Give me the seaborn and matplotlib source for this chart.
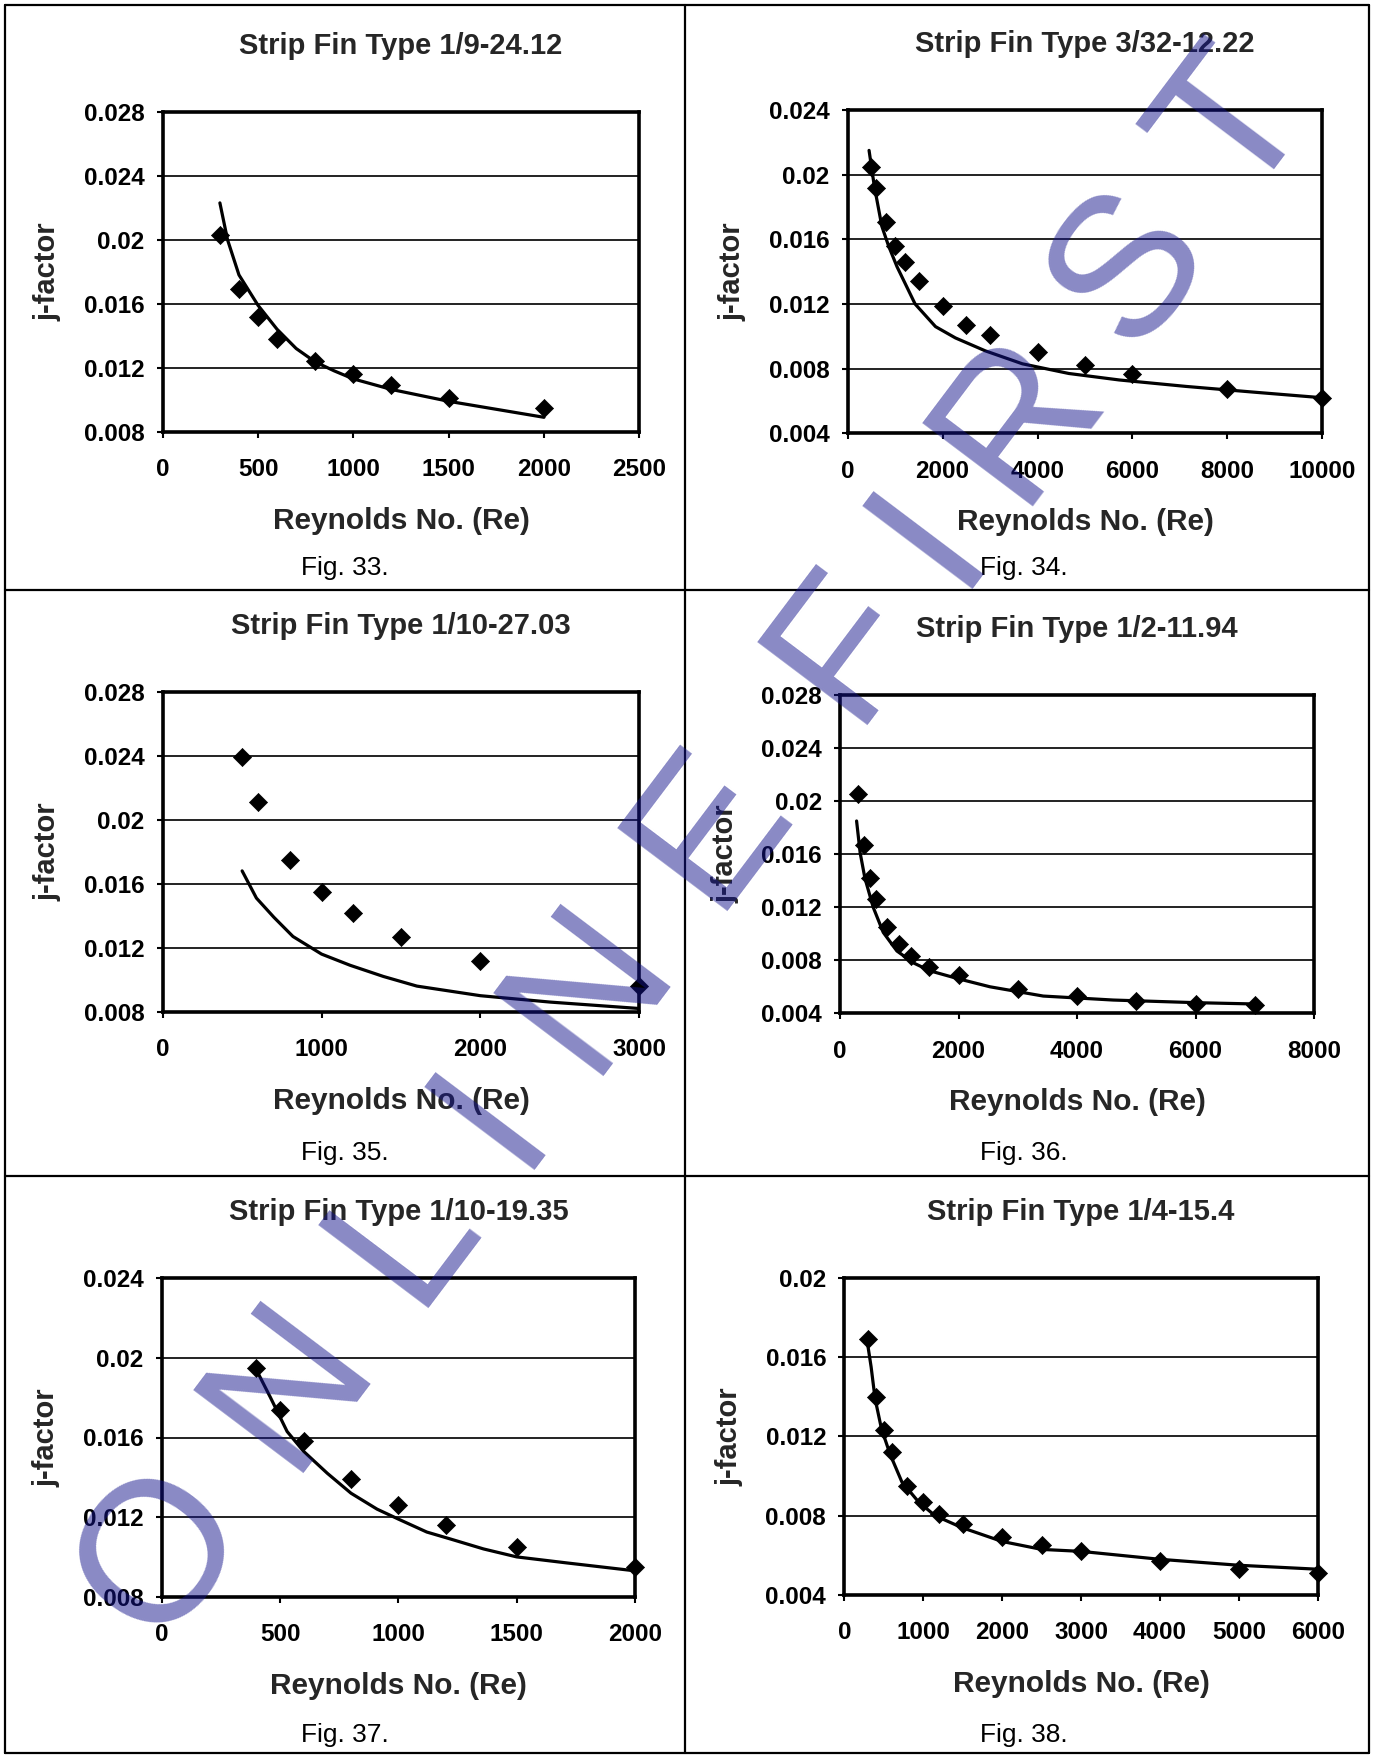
import numpy as np
import pandas as pd
import matplotlib
matplotlib.use("Agg")
import matplotlib.pyplot as plt
from matplotlib.lines import Line2D
from matplotlib.ticker import FuncFormatter, MultipleLocator
import seaborn as sns

# ---------------- data ----------------
titles = ["Strip Fin Type 1/9-24.12", "Strip Fin Type 3/32-12.22",
          "Strip Fin Type 1/10-27.03", "Strip Fin Type 1/2-11.94",
          "Strip Fin Type 1/10-19.35", "Strip Fin Type 1/4-15.4"]
captions = ["Fig. 33.", "Fig. 34.", "Fig. 35.", "Fig. 36.", "Fig. 37.", "Fig. 38."]

re33 = [300, 400, 500, 600, 800, 1000, 1200, 1500, 2000]
j33 = [0.0203, 0.0169, 0.0152, 0.0138, 0.0124, 0.0116, 0.0109, 0.0101, 0.0095]
re33_fit = [300, 340, 400, 500, 600, 700, 800, 900, 1000, 1200, 1500, 2000]
j33_fit = [0.0223, 0.0200, 0.0178, 0.0159, 0.0144, 0.0132, 0.01236, 0.0118, 0.0113, 0.01064, 0.0099, 0.0089]

re34 = [500, 600, 800, 1000, 1200, 1500, 2000, 2500, 3000, 4000, 5000, 6000, 8000, 10000]
j34 = [0.0205, 0.0192, 0.0171, 0.0156, 0.0146, 0.0134, 0.0119, 0.0107, 0.0101, 0.0090, 0.0082, 0.00765, 0.00676, 0.0062]
re34_fit = [450, 560, 720, 860, 1040, 1420, 1850, 2270, 2900, 3680, 4660, 5720, 7130, 8540, 10000]
j34_fit = [0.0215, 0.0193, 0.0168, 0.0156, 0.0143, 0.0120, 0.0106, 0.0099, 0.0091, 0.0083, 0.0077, 0.0073, 0.0069, 0.00655, 0.0062]

re35 = [500, 600, 800, 1000, 1200, 1500, 2000, 3000]
j35 = [0.0239, 0.0211, 0.0175, 0.0155, 0.0142, 0.0127, 0.0112, 0.0096]
re35_fit = [500, 590, 700, 820, 1000, 1180, 1390, 1600, 2000, 2440, 3000]
j35_fit = [0.0168, 0.0151, 0.0139, 0.0127, 0.0116, 0.0109, 0.0102, 0.0096, 0.0090, 0.0086, 0.0082]

re36 = [300, 400, 500, 600, 800, 1000, 1200, 1500, 2000, 3000, 4000, 5000, 6000, 7000]
j36 = [0.0205, 0.0167, 0.0142, 0.0126, 0.0105, 0.0092, 0.0083, 0.0075, 0.0069, 0.0058, 0.0053, 0.00495, 0.0047, 0.0046]
re36_fit = [280, 340, 420, 560, 730, 960, 1240, 1520, 2000, 2530, 3430, 4610, 6020, 7030]
j36_fit = [0.0185, 0.0161, 0.0142, 0.0120, 0.0101, 0.0087, 0.0078, 0.0072, 0.0066, 0.0060, 0.0053, 0.0050, 0.0048, 0.0047]

re37 = [400, 500, 600, 800, 1000, 1200, 1500, 2000]
j37 = [0.0195, 0.0174, 0.0158, 0.0139, 0.0126, 0.0116, 0.0105, 0.0095]
re37_fit = [400, 460, 530, 600, 700, 800, 910, 1000, 1120, 1220, 1360, 1500, 1710, 2000]
j37_fit = [0.0194, 0.0180, 0.0163, 0.0153, 0.0142, 0.0132, 0.0124, 0.0119, 0.01125, 0.0109, 0.0104, 0.0100, 0.0097, 0.0093]

re38 = [300, 400, 500, 600, 800, 1000, 1200, 1500, 2000, 2500, 3000, 4000, 5000, 6000]
j38 = [0.0169, 0.0140, 0.0123, 0.0112, 0.0095, 0.0087, 0.0081, 0.0076, 0.0069, 0.0065, 0.0062, 0.0057, 0.0053, 0.0051]
re38_fit = [290, 340, 390, 470, 580, 730, 940, 1150, 1490, 2000, 2500, 3000, 4000, 5000, 6000]
j38_fit = [0.0168, 0.0155, 0.0139, 0.0124, 0.0111, 0.0097, 0.0087, 0.0080, 0.0074, 0.0067, 0.0063, 0.0062, 0.0058, 0.0055, 0.0053]

x_max = [2500, 10000, 3000, 8000, 2000, 6000]
x_step = [500, 2000, 1000, 2000, 500, 1000]
y_min = [0.008, 0.004, 0.008, 0.004, 0.008, 0.004]
y_max = [0.028, 0.024, 0.028, 0.028, 0.024, 0.020]
y_step = 0.004

points = [(re33, j33), (re34, j34), (re35, j35), (re36, j36), (re37, j37), (re38, j38)]
fits = [(re33_fit, j33_fit), (re34_fit, j34_fit), (re35_fit, j35_fit),
        (re36_fit, j36_fit), (re37_fit, j37_fit), (re38_fit, j38_fit)]

# ---------------- layout ----------------
W, H = 1375, 1755
# axes boxes in pixels: left, top, right, bottom
boxes = [(162.7, 111.7, 639.3, 431.7), (847.7, 110.0, 1322.3, 433.3),
         (162.7, 691.7, 639.3, 1011.7), (840.0, 695.0, 1314.0, 1013.3),
         (161.7, 1278.3, 635.0, 1596.7), (844.3, 1277.7, 1317.7, 1595.0)]
cap_pos = [(345, 568), (1024, 568), (345, 1153), (1024, 1153), (345, 1735), (1024, 1735)]

sns.set_theme(style="white")
plt.rcParams['font.family'] = ['Liberation Sans', 'DejaVu Sans']
plt.rcParams['font.weight'] = 'bold'

fig = plt.figure(figsize=(W / 100, H / 100), dpi=100)
fig.patch.set_facecolor('white')

for i in range(6):
    l, t, r, b = boxes[i]
    axw, axh = r - l, b - t
    ax = fig.add_axes([l / W, 1 - b / H, axw / W, axh / H])
    ax.set_facecolor('white')
    rx, jy = fits[i]
    df_fit = pd.DataFrame({"Re": rx, "j": jy})
    sns.lineplot(data=df_fit, x="Re", y="j", color='black', lw=2.3, sort=False,
                 estimator=None, ax=ax, zorder=3)
    px, py = points[i]
    df_pts = pd.DataFrame({"Re": px, "j": py})
    sns.scatterplot(data=df_pts, x="Re", y="j", marker='D', color='black', s=85,
                    edgecolor='black', linewidth=0.5, ax=ax, zorder=4, clip_on=False)
    ax.set_xlim(0, x_max[i])
    ax.set_ylim(y_min[i], y_max[i])
    ax.xaxis.set_major_locator(MultipleLocator(x_step[i]))
    ax.yaxis.set_major_locator(MultipleLocator(y_step))
    ax.yaxis.set_major_formatter(FuncFormatter(lambda v, p: '%g' % round(v, 4)))
    ax.xaxis.set_major_formatter(FuncFormatter(lambda v, p: '%d' % round(v)))
    ax.yaxis.grid(True, color='#111111', lw=1.3)
    ax.xaxis.grid(False)
    ax.set_axisbelow(True)
    for sp in ax.spines.values():
        sp.set_visible(True)
        sp.set_color('black')
        sp.set_linewidth(2.6)
    ax.tick_params(axis='both', which='major', direction='out', length=4, width=1.5,
                   color='black', labelcolor='black', labelsize=17.5, bottom=True, left=True)
    ax.tick_params(axis='x', pad=15)
    ax.tick_params(axis='y', pad=9)
    for lab in ax.get_xticklabels() + ax.get_yticklabels():
        lab.set_fontweight('bold')
    ax.set_title(titles[i], fontsize=21, fontweight='bold', y=1 + 66 / axh, pad=0, va='center')
    ax.set_xlabel("Reynolds No. (Re)", fontsize=21.5, fontweight='bold')
    ax.xaxis.label.set_va('center')
    ax.xaxis.set_label_coords(0.5, -89 / axh)
    ax.set_ylabel("j-factor", fontsize=21, fontweight='bold')
    ax.yaxis.label.set_va('center')
    ax.yaxis.label.set_ha('center')
    ax.yaxis.set_label_coords(-115 / axw, 0.5)
    cx, cy = cap_pos[i]
    fig.text(cx / W, 1 - cy / H, captions[i], fontsize=19, fontweight='normal',
             ha='center', va='center', color='black')

# table borders
def hline(y, x0=5, x1=1369):
    fig.add_artist(Line2D([x0 / W, x1 / W], [1 - y / H, 1 - y / H], color='black', lw=1.6,
                          transform=fig.transFigure))

def vline(x, y0=5, y1=1753):
    fig.add_artist(Line2D([x / W, x / W], [1 - y0 / H, 1 - y1 / H], color='black', lw=1.6,
                          transform=fig.transFigure))

for yy in (5, 590, 1176, 1753):
    hline(yy)
for xx in (5, 685, 1369):
    vline(xx)

# watermark "ONLINE FIRST"
adv = {'O': .778, 'N': .722, 'L': .556, 'I': .278, 'E': .667,
       'F': .611, 'R': .722, 'S': .667, 'T': .611}
wm_letters = "ONLINEFIRST"
wm_gaps = [62, 62, 62, 62, 62, 100, 48, 48, 48, 48]
em, ang = 200, 53.0
ca, sa = np.cos(np.radians(ang)), np.sin(np.radians(ang))
x0, y0 = 146, 1541
d = 0.0
for k, ch in enumerate(wm_letters):
    if k > 0:
        d += (adv[wm_letters[k - 1]] + adv[ch]) / 2 * em + wm_gaps[k - 1]
    xx, yy = x0 + d * ca, y0 - d * sa
    fig.text(xx / W, 1 - yy / H, ch, fontsize=em * 0.72, fontweight='normal',
             rotation=ang, rotation_mode='anchor', ha='center', va='center_baseline',
             color=(0.08, 0.08, 0.55), alpha=0.5, zorder=100)

fig.savefig("out.png", dpi=100, facecolor='white')
